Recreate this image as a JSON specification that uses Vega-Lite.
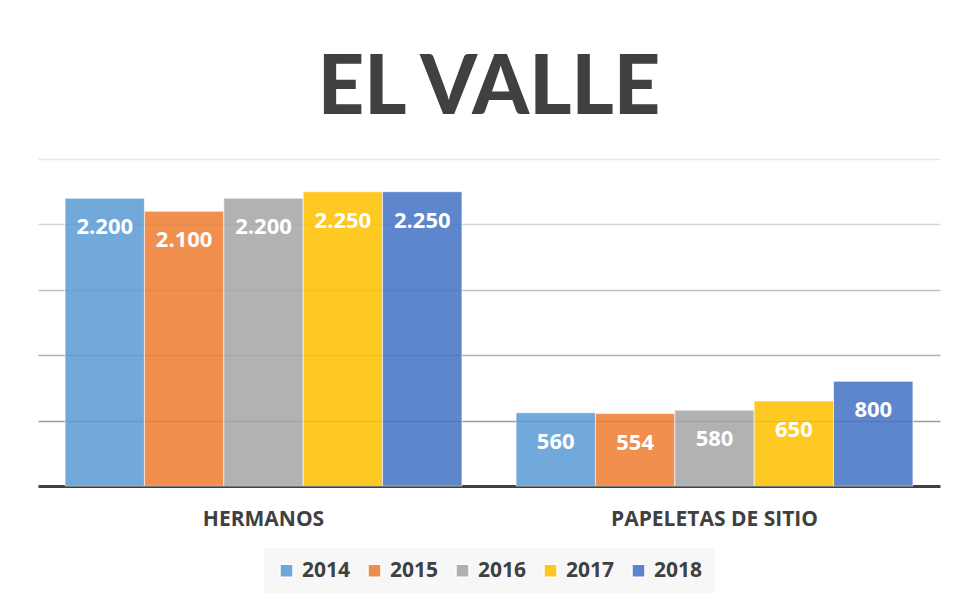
{
  "$schema": "https://vega.github.io/schema/vega-lite/v6.json",
  "width": 902,
  "height": 327,
  "autosize": "none",
  "padding": {"left": 38, "top": 159, "right": 17, "bottom": 117},
  "background": "white",
  "title": {
    "text": "EL VALLE",
    "font": "Lato",
    "fontWeight": 900,
    "fontSize": 81,
    "color": "#404040",
    "anchor": "middle",
    "baseline": "alphabetic",
    "offset": 46,
    "dy": 82
  },
  "data": {
    "values": [
      {"categoria": "HERMANOS", "año": "2014", "valor": 2200},
      {"categoria": "HERMANOS", "año": "2015", "valor": 2100},
      {"categoria": "HERMANOS", "año": "2016", "valor": 2200},
      {"categoria": "HERMANOS", "año": "2017", "valor": 2250},
      {"categoria": "HERMANOS", "año": "2018", "valor": 2250},
      {"categoria": "PAPELETAS DE SITIO", "año": "2014", "valor": 560},
      {"categoria": "PAPELETAS DE SITIO", "año": "2015", "valor": 554},
      {"categoria": "PAPELETAS DE SITIO", "año": "2016", "valor": 580},
      {"categoria": "PAPELETAS DE SITIO", "año": "2017", "valor": 650},
      {"categoria": "PAPELETAS DE SITIO", "año": "2018", "valor": 800}
    ]
  },
  "encoding": {
    "x": {
      "field": "categoria",
      "type": "nominal",
      "sort": null,
      "scale": {"paddingInner": 0.12, "paddingOuter": 0.06},
      "axis": {
        "title": null,
        "labelAngle": 0,
        "ticks": false,
        "labelPadding": 22,
        "labelLimit": 400,
        "labelFont": "Open Sans",
        "labelFontWeight": "bold",
        "labelFontSize": 21,
        "labelColor": "#404040",
        "domainColor": "#404040",
        "domainWidth": 3,
        "grid": false
      }
    },
    "xOffset": {"field": "año", "type": "nominal", "sort": null},
    "y": {
      "field": "valor",
      "type": "quantitative",
      "scale": {"domain": [0, 2500], "nice": false},
      "axis": {
        "title": null,
        "labels": false,
        "ticks": false,
        "domain": false,
        "values": [500, 1000, 1500, 2000, 2500],
        "gridWidth": 1.5,
        "gridColor": {
          "condition": {"test": "datum.value <= 500", "value": "#9c9c9c"},
          "expr": "datum.value <= 1000 ? '#b0b0b0' : datum.value <= 1500 ? '#c2c2c2' : datum.value <= 2000 ? '#d6d6d6' : '#e6e6e6'"
        }
      }
    }
  },
  "layer": [
    {
      "mark": {
        "type": "bar",
        "fillOpacity": 0.86,
        "stroke": "white",
        "strokeWidth": 1,
        "strokeOpacity": 0.6
      },
      "encoding": {
        "color": {
          "field": "año",
          "type": "nominal",
          "scale": {
            "domain": ["2014", "2015", "2016", "2017", "2018"],
            "range": ["#5B9BD5", "#ED7D31", "#A5A5A5", "#FFC000", "#4472C4"]
          },
          "legend": {
            "title": null,
            "orient": "none",
            "legendX": 226,
            "legendY": 389,
            "direction": "horizontal",
            "symbolType": "square",
            "symbolSize": 169,
            "symbolOpacity": 0.86,
            "labelFont": "Open Sans",
            "labelFontWeight": "bold",
            "labelFontSize": 21,
            "labelColor": "#404040",
            "labelOffset": 5,
            "columnPadding": 13,
            "padding": 12,
            "fillColor": "#f7f7f7"
          }
        }
      }
    },
    {
      "mark": {
        "type": "text",
        "color": "white",
        "font": "Open Sans",
        "fontWeight": "bold",
        "fontSize": 22,
        "baseline": "middle",
        "dy": 29
      },
      "encoding": {
        "text": {"field": "valor", "type": "quantitative", "format": ","}
      }
    }
  ],
  "config": {
    "view": {"stroke": null},
    "locale": {
      "number": {"decimal": ",", "thousands": ".", "grouping": [3], "currency": ["", " €"]}
    }
  }
}
